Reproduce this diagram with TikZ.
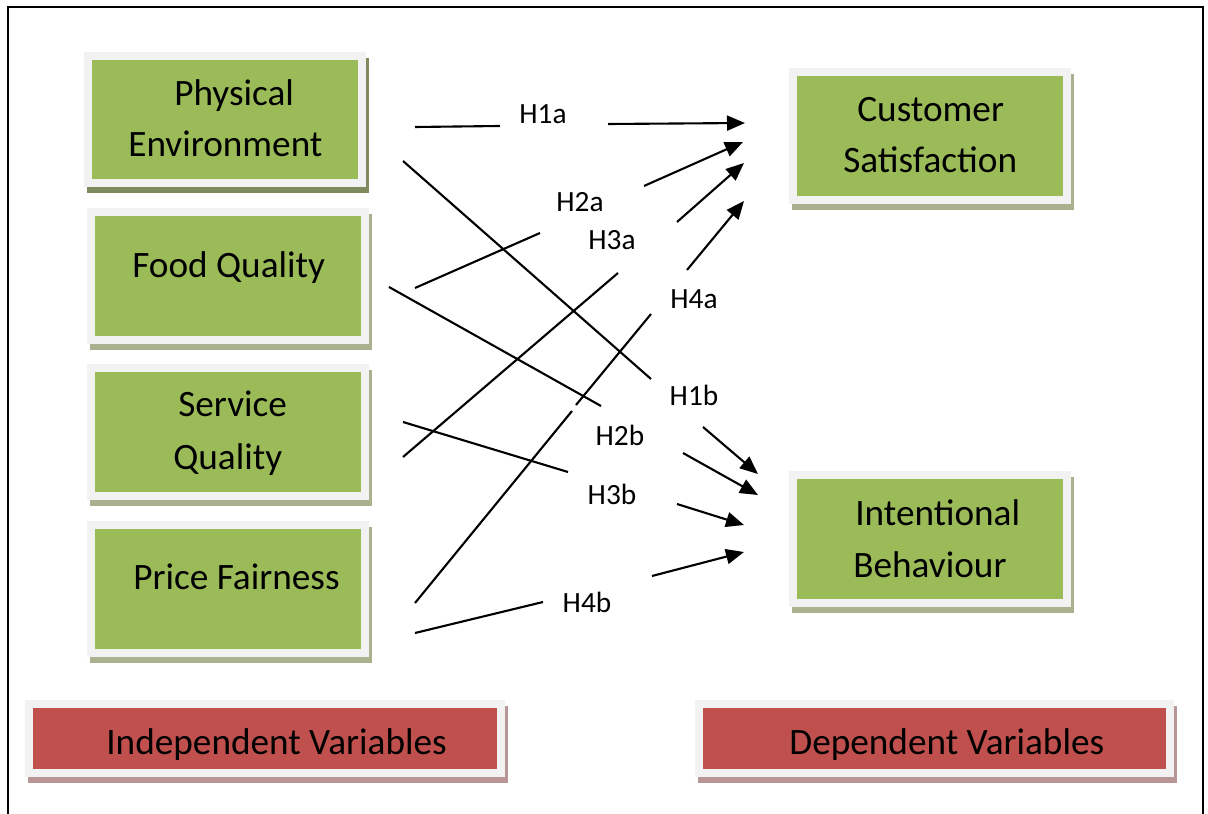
\documentclass[tikz,border=0pt]{standalone}
\usepackage{fontspec}
\setmainfont{Carlito}
\usetikzlibrary{arrows.meta,fit}

\definecolor{leaf}{HTML}{9BBB59}
\definecolor{brick}{HTML}{C0504D}
\definecolor{rim}{HTML}{F2F2F2}
\definecolor{olivedark}{HTML}{7F8B5F}
\definecolor{olivelight}{HTML}{A9B18F}
\definecolor{rosegray}{HTML}{B89696}

\tikzset{
  panel/.style n args={2}{inner sep=0pt, fill=rim,
    preaction={fill=#2, transform canvas={xshift=0.06cm, yshift=-0.12cm}},
    path picture={\fill[#1]
      ([xshift=0.16cm,yshift=0.16cm]path picture bounding box.south west)
      rectangle
      ([xshift=-0.16cm,yshift=-0.16cm]path picture bounding box.north east);}},
  boxtext/.style={anchor=base west, inner sep=0pt, font=\fontsize{21.2}{29}\selectfont},
  hyp/.style={anchor=base, inner sep=0pt, font=\fontsize{16.7}{20}\selectfont},
  conn/.style={line width=1.2pt},
  arr/.style={-{Triangle[length=0.36cm,width=0.3cm]}}
}

\begin{document}
\begin{tikzpicture}[x=0.02cm,y=-0.02cm]
\useasboundingbox (0,0) rectangle (1208,814);

% page frame
\draw[line width=1.2pt] (8,814) -- (8,7) -- (1203,7) -- (1203,814);

% independent variables
\node[panel={leaf}{olivedark}, fit={(84,52) (366,187)}] (pe) {};
\node[panel={leaf}{olivelight}, fit={(87,208) (369,344)}] (fq) {};
\node[panel={leaf}{olivelight}, fit={(87,364) (369,500)}] (sq) {};
\node[panel={leaf}{olivelight}, fit={(87,521) (369,657)}] (pf) {};
% dependent variables
\node[panel={leaf}{olivelight}, fit={(789,68) (1071,204)}] (cs) {};
\node[panel={leaf}{olivelight}, fit={(789,471) (1071,607)}] (ib) {};
% legend bars
\node[panel={brick}{rosegray}, fit={(25,700) (505,777)}] (iv) {};
\node[panel={brick}{rosegray}, fit={(695,700) (1174,777)}] (dv) {};

% box texts
\node[boxtext] (pe1) at (174,106) {Physical};
\node[boxtext] (pe2) at (128,157) {Environment};
\node[boxtext] (fq1) at (132,278) {Food Quality};
\node[boxtext] (sq1) at (178,417) {Service};
\node[boxtext] (sq2) at (173,469) {Quality};
\node[boxtext] (pf1) at (133,589) {Price Fairness};
\node[boxtext] (cs1) at (857,122) {Customer};
\node[boxtext] (cs2) at (843,173) {Satisfaction};
\node[boxtext] (ib1) at (855,525) {Intentional};
\node[boxtext] (ib2) at (853,577) {Behaviour};
\node[boxtext] (iv1) at (106,754) {Independent Variables};
\node[boxtext] (dv1) at (789,754) {Dependent Variables};

% connector end points
\coordinate (h1a-s) at (415,127); \coordinate (h1a-a) at (500,126);
\coordinate (h1a-b) at (608,124); \coordinate (h1a-e) at (745,123);
\coordinate (h2a-s) at (415,288); \coordinate (h2a-a) at (540,233);
\coordinate (h2a-b) at (644,186); \coordinate (h2a-e) at (743,142);
\coordinate (h3a-s) at (403,457); \coordinate (h3a-a) at (618,273);
\coordinate (h3a-b) at (677,222); \coordinate (h3a-e) at (744,163);
\coordinate (h4a-s) at (415,603); \coordinate (h4a-g) at (572,411);
\coordinate (h4a-h) at (576,405); \coordinate (h4a-a) at (651,314);
\coordinate (h4a-b) at (687,270); \coordinate (h4a-e) at (744,201);
\coordinate (h1b-s) at (403,161); \coordinate (h1b-a) at (651,379);
\coordinate (h1b-b) at (703,427); \coordinate (h1b-e) at (758,474);
\coordinate (h2b-s) at (389,287); \coordinate (h2b-a) at (601,406);
\coordinate (h2b-b) at (683,453); \coordinate (h2b-e) at (758,495);
\coordinate (h3b-s) at (403,422); \coordinate (h3b-a) at (568,472);
\coordinate (h3b-b) at (677,504); \coordinate (h3b-e) at (744,525);
\coordinate (h4b-s) at (415,633); \coordinate (h4b-a) at (543,602);
\coordinate (h4b-b) at (652,576); \coordinate (h4b-e) at (744,552);

% hypothesis paths
\draw[conn] (h1a-s) -- (h1a-a);  \draw[conn,arr] (h1a-b) -- (h1a-e);
\draw[conn] (h2a-s) -- (h2a-a);  \draw[conn,arr] (h2a-b) -- (h2a-e);
\draw[conn] (h3a-s) -- (h3a-a);  \draw[conn,arr] (h3a-b) -- (h3a-e);
\draw[conn] (h4a-s) -- (h4a-g);  \draw[conn] (h4a-h) -- (h4a-a);
\draw[conn,arr] (h4a-b) -- (h4a-e);
\draw[conn] (h1b-s) -- (h1b-a);  \draw[conn,arr] (h1b-b) -- (h1b-e);
\draw[conn] (h2b-s) -- (h2b-a);  \draw[conn,arr] (h2b-b) -- (h2b-e);
\draw[conn] (h3b-s) -- (h3b-a);  \draw[conn,arr] (h3b-b) -- (h3b-e);
\draw[conn] (h4b-s) -- (h4b-a);  \draw[conn,arr] (h4b-b) -- (h4b-e);

% hypothesis labels
\node[hyp] (l1a) at (543,124) {H1a};
\node[hyp] (l2a) at (580,212) {H2a};
\node[hyp] (l3a) at (612,250) {H3a};
\node[hyp] (l4a) at (694,309) {H4a};
\node[hyp] (l1b) at (694,406) {H1b};
\node[hyp] (l2b) at (620,445) {H2b};
\node[hyp] (l3b) at (612,504) {H3b};
\node[hyp] (l4b) at (587,612) {H4b};
\end{tikzpicture}
\end{document}
